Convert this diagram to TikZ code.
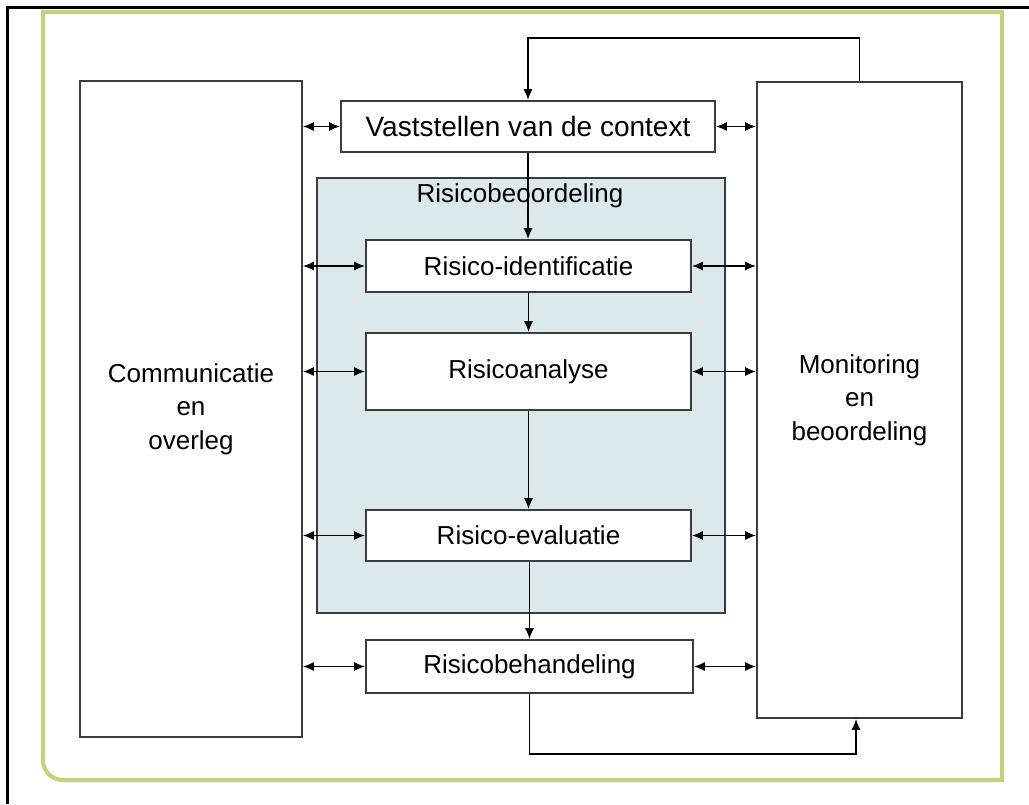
\documentclass[tikz,border=0pt]{standalone}
\usepackage{fontspec}
\setmainfont{Liberation Sans}
\usetikzlibrary{arrows.meta,calc}
\definecolor{framegreen}{RGB}{196,210,122}
\definecolor{shade}{RGB}{220,233,236}
\definecolor{boxline}{RGB}{60,60,60}
\begin{document}
\begin{tikzpicture}[x=1pt,y=-1pt,
  box/.style={draw=boxline,line width=1.8pt,fill=white,inner sep=0pt,align=center,
    font=\fontsize{26}{33.5}\selectfont},
  conn/.style={line width=1.4pt,-{Latex[length=11pt,width=9pt]}},
  dconn/.style={line width=1.4pt,{Latex[length=11pt,width=9pt]}-{Latex[length=11pt,width=9pt]}}]
\useasboundingbox (0,0) rectangle (1029,804);
% outer frame (left and top only visible)
\draw[line width=3pt,black] (7,804) -- (7,7) -- (1029,7);
% green frame
\draw[framegreen,line width=4pt] (43,12) -- (43,760) .. controls (43,771) and (52,780) .. (63,780)
   -- (1002,780) -- (1002,12) -- cycle;
% shaded risk assessment area
\node[draw=boxline,line width=1.8pt,fill=shade,minimum width=408pt,minimum height=435pt,inner sep=0pt] (rb) at (521,395.5) {};
\node[font=\fontsize{26}{30}\selectfont,anchor=center] (rbl) at (520,196) {Risicobeoordeling};
% side boxes
\node[box,minimum width=222pt,minimum height=656pt] (comm) at (191,409) {Communicatie\\en\\overleg};
\node[box,minimum width=205pt,minimum height=636pt] (mon) at (859.5,400) {Monitoring\\en\\beoordeling};
% process boxes
\node[box,minimum width=374pt,minimum height=51pt,font=\fontsize{28}{33}\selectfont] (ctx) at (528,126.5) {Vaststellen van de context};
\node[box,minimum width=325pt,minimum height=52pt] (ident) at (528.5,266) {Risico-identificatie};
\node[box,minimum width=325pt,minimum height=77pt] (anal) at (528.5,371.5) {Risicoanalyse};
\node[box,minimum width=325pt,minimum height=51pt] (eval) at (528.5,535.5) {Risico-evaluatie};
\node[box,minimum width=327pt,minimum height=53pt] (beh) at (529.5,666.5) {Risicobehandeling};
% vertical flow
\draw[conn] (ctx.south) -- (ctx.south |- ident.north);
\draw[conn] (ident.south) -- (anal.north);
\draw[conn] (anal.south) -- (eval.north);
\draw[conn] (eval.south -| beh.south) -- (beh.north);
% double arrows
\foreach \n in {ctx,ident,anal,eval,beh}{
  \draw[dconn] (\n.west -| comm.east) -- (\n.west);
  \draw[dconn] (\n.east) -- (\n.east -| mon.west);
}
% loops
\coordinate (topc) at (700,38);
\draw[conn] (mon.north) |- (topc) -| (ctx.north);
\coordinate (botc) at (856,754);
\draw[conn] (beh.south) |- (botc) -- (botc |- mon.south);
\end{tikzpicture}
\end{document}
